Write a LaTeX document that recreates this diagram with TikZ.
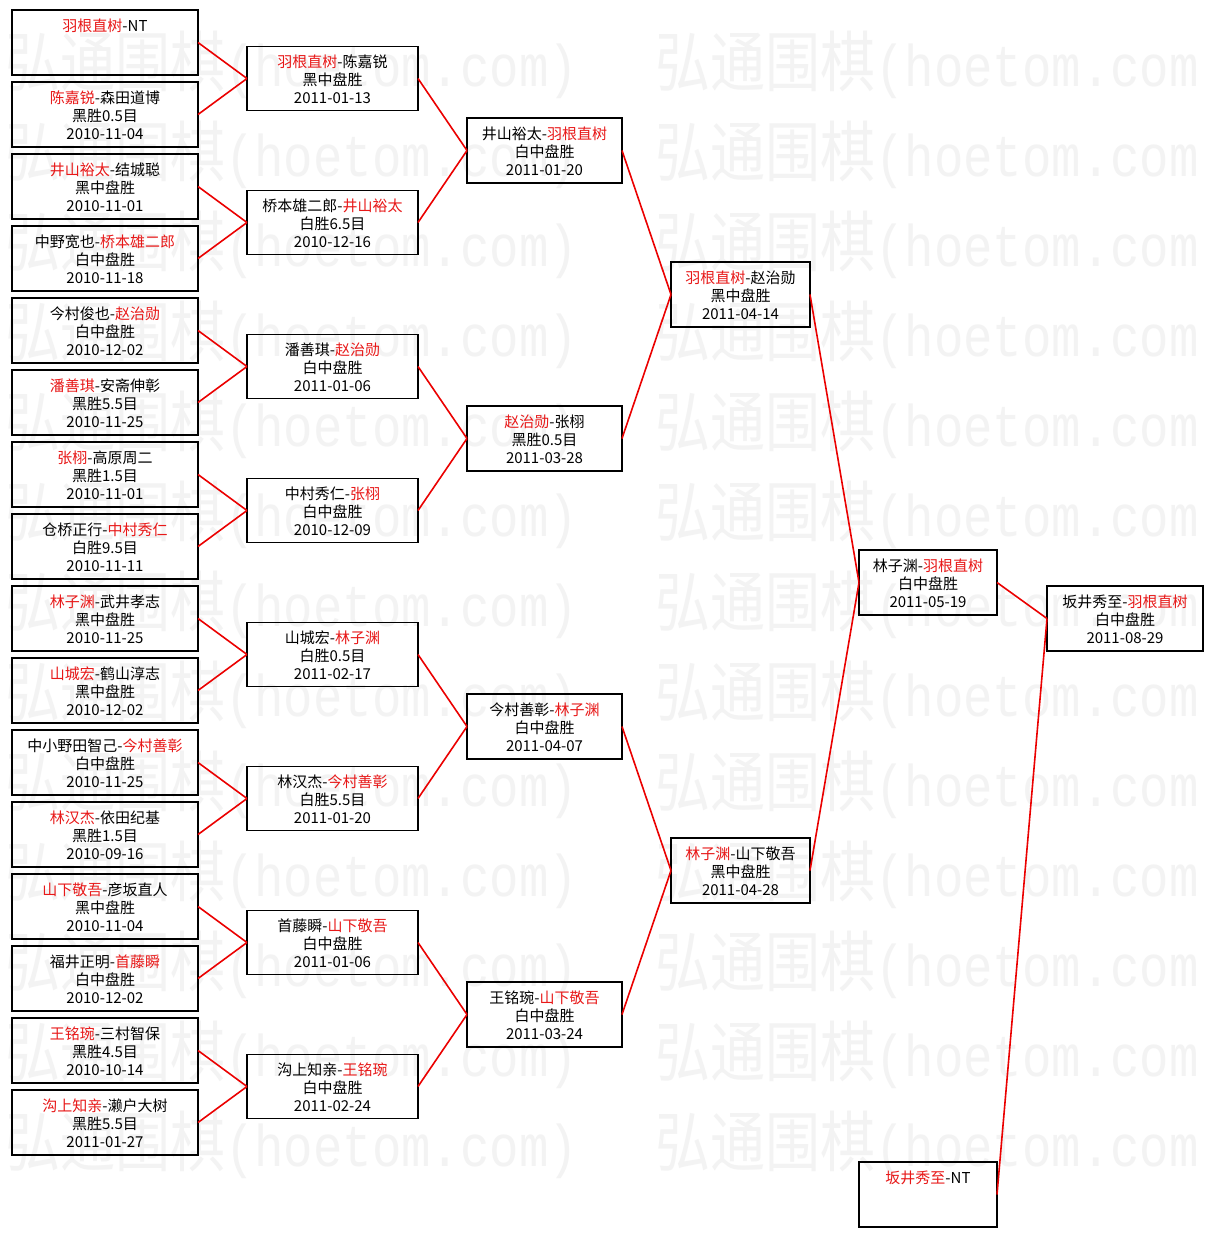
\documentclass[tikz,border=0pt]{standalone}
\usepackage{fontspec}
\usepackage{graphicx}
\newfontfamily\cjk{Noto Sans CJK SC}
\newfontfamily\wmlat{Liberation Mono}
\definecolor{wmgray}{RGB}{243,243,243}
\definecolor{win}{RGB}{232,24,24}
\definecolor{linkred}{RGB}{235,0,0}
\newcommand{\W}[1]{\textcolor{win}{#1}}
\newcommand{\wmstr}[1]{\scalebox{1}[1.2]{\cjk\fontsize{55}{55}\selectfont 弘通围棋\wmlat\fontsize{49}{49}\selectfont #1}}
\tikzset{
  box/.style={draw=black, line width=1.8pt, anchor=north west, inner sep=0pt, outer sep=0pt},
  btext/.style={anchor=base, inner sep=0pt, font=\cjk\fontsize{15}{18}\selectfont},
  link/.style={draw=linkred, line width=1.6pt},
  wmark/.style={anchor=west, inner sep=0pt, text=wmgray}
}
\newcommand{\mybox}[6]{%
  \node[box, minimum width=#4pt, minimum height=#5pt] (#1) at (#2,#3) {};
  \node[btext] (#1-t) at ([yshift=-21pt]#1.north) {\begin{tabular}[t]{@{}c@{}}#6\end{tabular}};
}
\begin{document}
\begin{tikzpicture}[x=1pt,y=-1pt]
\fill[white] (0,0) rectangle (1212,1237);
\useasboundingbox (0,0) rectangle (1212,1237);
% watermark
\foreach \r in {0,...,12} {
  \node[wmark] (wma\r) at (5,65+90*\r) {\wmstr{(hoetom.com)}};
  \node[wmark] (wmb\r) at (655,65+90*\r) {\wmstr{(hoetom.com}};
}
% column 1
\mybox{a1}{12}{10}{186}{65}{\W{羽根直树}-NT}
\mybox{a2}{12}{82}{186}{65}{\W{陈嘉锐}-森田道博\\黑胜0.5目\\2010-11-04}
\mybox{a3}{12}{154}{186}{65}{\W{井山裕太}-结城聪\\黑中盘胜\\2010-11-01}
\mybox{a4}{12}{226}{186}{65}{中野宽也-\W{桥本雄二郎}\\白中盘胜\\2010-11-18}
\mybox{a5}{12}{298}{186}{65}{今村俊也-\W{赵治勋}\\白中盘胜\\2010-12-02}
\mybox{a6}{12}{370}{186}{65}{\W{潘善琪}-安斋伸彰\\黑胜5.5目\\2010-11-25}
\mybox{a7}{12}{442}{186}{65}{\W{张栩}-高原周二\\黑胜1.5目\\2010-11-01}
\mybox{a8}{12}{514}{186}{65}{仓桥正行-\W{中村秀仁}\\白胜9.5目\\2010-11-11}
\mybox{a9}{12}{586}{186}{65}{\W{林子渊}-武井孝志\\黑中盘胜\\2010-11-25}
\mybox{a10}{12}{658}{186}{65}{\W{山城宏}-鹤山淳志\\黑中盘胜\\2010-12-02}
\mybox{a11}{12}{730}{186}{65}{中小野田智己-\W{今村善彰}\\白中盘胜\\2010-11-25}
\mybox{a12}{12}{802}{186}{65}{\W{林汉杰}-依田纪基\\黑胜1.5目\\2010-09-16}
\mybox{a13}{12}{874}{186}{65}{\W{山下敬吾}-彦坂直人\\黑中盘胜\\2010-11-04}
\mybox{a14}{12}{946}{186}{65}{福井正明-\W{首藤瞬}\\白中盘胜\\2010-12-02}
\mybox{a15}{12}{1018}{186}{65}{\W{王铭琬}-三村智保\\黑胜4.5目\\2010-10-14}
\mybox{a16}{12}{1090}{186}{65}{\W{沟上知亲}-濑户大树\\黑胜5.5目\\2011-01-27}
% column 2
\mybox{b1}{247}{46.5}{171}{64}{\W{羽根直树}-陈嘉锐\\黑中盘胜\\2011-01-13}
\mybox{b2}{247}{190.5}{171}{64}{桥本雄二郎-\W{井山裕太}\\白胜6.5目\\2010-12-16}
\mybox{b3}{247}{334.5}{171}{64}{潘善琪-\W{赵治勋}\\白中盘胜\\2011-01-06}
\mybox{b4}{247}{478.5}{171}{64}{中村秀仁-\W{张栩}\\白中盘胜\\2010-12-09}
\mybox{b5}{247}{622.5}{171}{64}{山城宏-\W{林子渊}\\白胜0.5目\\2011-02-17}
\mybox{b6}{247}{766.5}{171}{64}{林汉杰-\W{今村善彰}\\白胜5.5目\\2011-01-20}
\mybox{b7}{247}{910.5}{171}{64}{首藤瞬-\W{山下敬吾}\\白中盘胜\\2011-01-06}
\mybox{b8}{247}{1054.5}{171}{64}{沟上知亲-\W{王铭琬}\\白中盘胜\\2011-02-24}
% column 3
\mybox{c1}{467}{118}{155}{65}{井山裕太-\W{羽根直树}\\白中盘胜\\2011-01-20}
\mybox{c2}{467}{406}{155}{65}{\W{赵治勋}-张栩\\黑胜0.5目\\2011-03-28}
\mybox{c3}{467}{694}{155}{65}{今村善彰-\W{林子渊}\\白中盘胜\\2011-04-07}
\mybox{c4}{467}{982}{155}{65}{王铭琬-\W{山下敬吾}\\白中盘胜\\2011-03-24}
% column 4
\mybox{d1}{671}{262}{139}{65}{\W{羽根直树}-赵治勋\\黑中盘胜\\2011-04-14}
\mybox{d2}{671}{838}{139}{65}{\W{林子渊}-山下敬吾\\黑中盘胜\\2011-04-28}
% column 5
\mybox{e1}{859}{550}{138}{65}{林子渊-\W{羽根直树}\\白中盘胜\\2011-05-19}
\mybox{e2}{859}{1162}{138}{65}{\W{坂井秀至}-NT}
% final
\mybox{f1}{1047}{586}{156}{65}{坂井秀至-\W{羽根直树}\\白中盘胜\\2011-08-29}
% connectors
\foreach \p/\x/\y in {b1/a1/a2, b2/a3/a4, b3/a5/a6, b4/a7/a8, b5/a9/a10, b6/a11/a12, b7/a13/a14, b8/a15/a16,
  c1/b1/b2, c2/b3/b4, c3/b5/b6, c4/b7/b8, d1/c1/c2, d2/c3/c4, e1/d1/d2, f1/e1/e2} {
  \draw[link] (\x.east) -- (\p.west);
  \draw[link] (\y.east) -- (\p.west);
}
\end{tikzpicture}
\end{document}
